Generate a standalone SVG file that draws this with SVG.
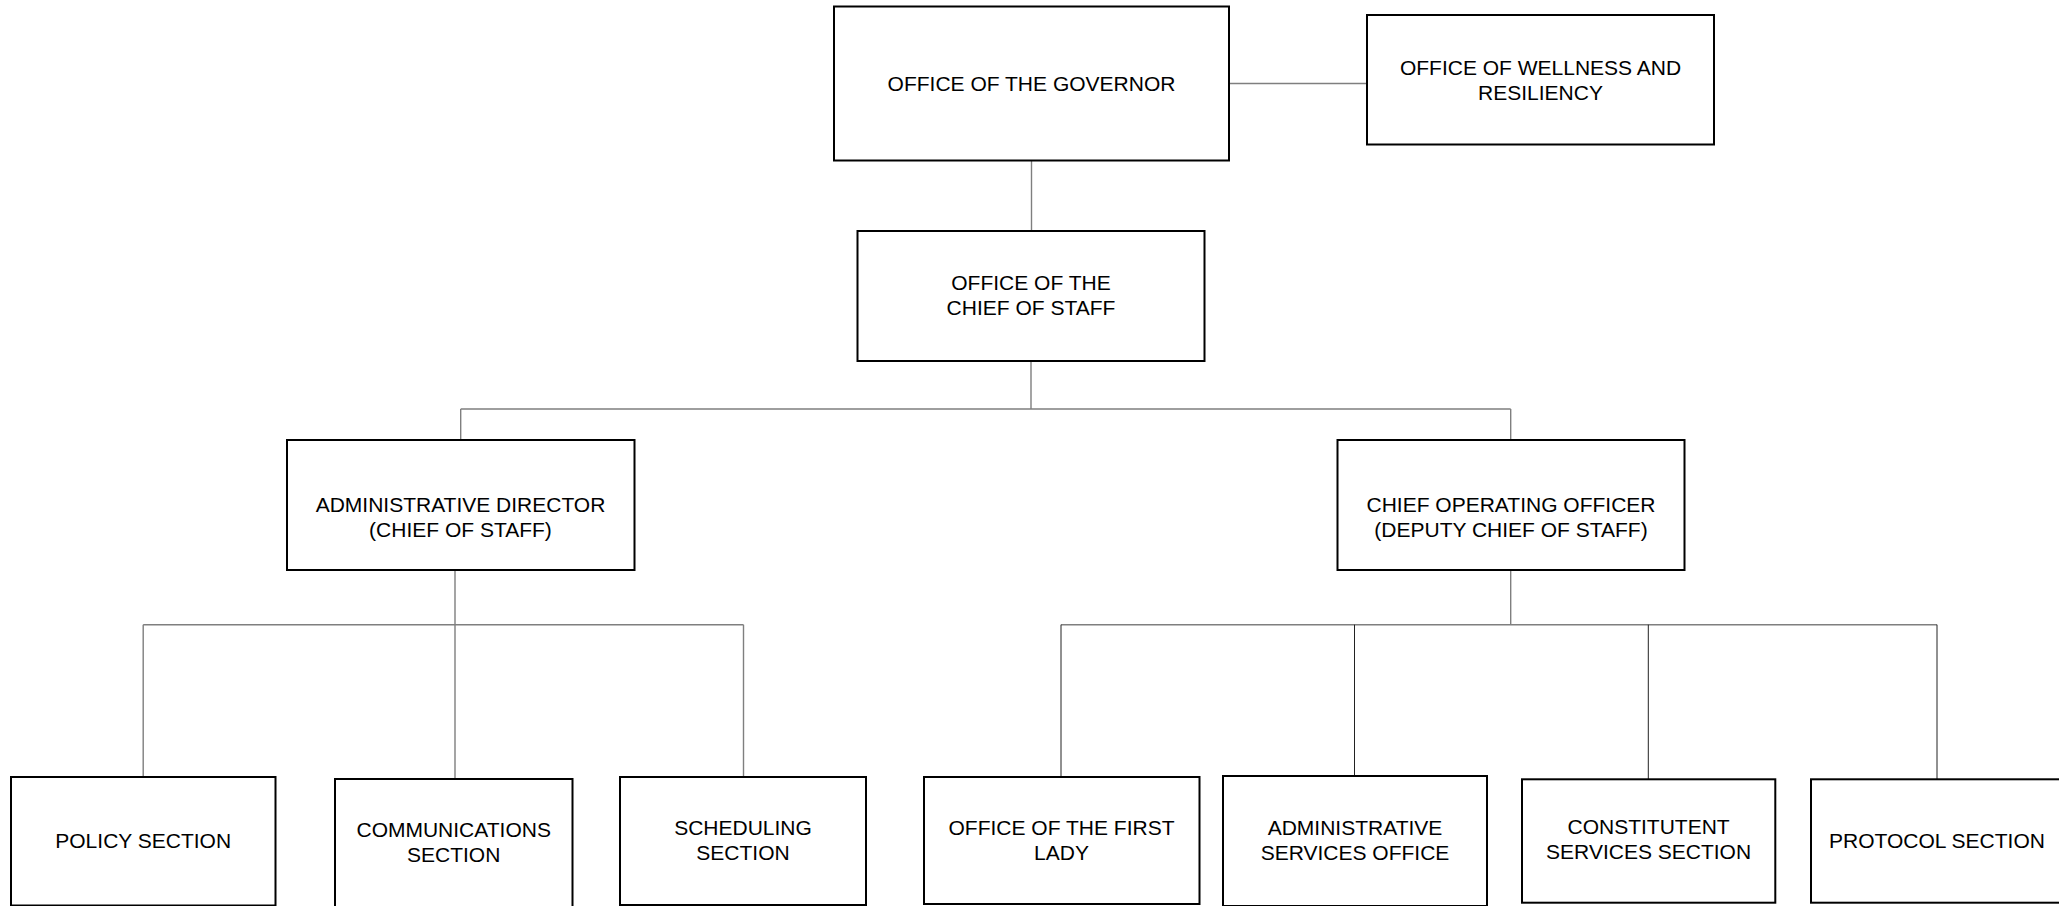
<svg xmlns="http://www.w3.org/2000/svg" width="2059" height="906" viewBox="0 0 2059 906">
<style>
.box{fill:#fff;stroke:#000;stroke-width:2}
.t{font-family:"Liberation Sans",Arial,sans-serif;font-size:21px;fill:#000;text-anchor:middle}
.c{fill:none;stroke:#7f7f7f;stroke-width:1.4}
.k{fill:none;stroke:#222;stroke-width:1}
</style>
<rect width="2059" height="906" fill="#fff"/>
<g id="connectors">
<path class="c" d="M1229 83.5H1367"/>
<path class="c" d="M1031.5 161V231"/>
<path class="c" d="M1031 361V409M460.7 409H1510.7M460.7 409V440M1510.7 409V440"/>
<path class="c" d="M455 570V624.7M143.2 624.7H743.5M143.2 624.7V777M455 624.7V779M743.5 624.7V777"/>
<path class="c" d="M1510.7 570V624.7M1061 624.7H1937"/>
<path class="k" d="M1061 624.7V777M1354.5 624.7V776M1648.3 624.7V779M1937 624.7V779"/>
</g>
<g id="governor"><rect class="box" x="834" y="6.5" width="395" height="154"/><text class="t" x="1031.5" y="90.5">OFFICE OF THE GOVERNOR</text></g>
<g id="wellness"><rect class="box" x="1367" y="15" width="347" height="129.5"/><text class="t" x="1540.5" y="75">OFFICE OF WELLNESS AND</text><text class="t" x="1540.5" y="99.5">RESILIENCY</text></g>
<g id="chief-of-staff"><rect class="box" x="857.5" y="231" width="347" height="130"/><text class="t" x="1031" y="290">OFFICE OF THE</text><text class="t" x="1031" y="314.5">CHIEF OF STAFF</text></g>
<g id="admin-director"><rect class="box" x="287" y="440" width="347.5" height="130"/><text class="t" x="460.5" y="511.7">ADMINISTRATIVE DIRECTOR</text><text class="t" x="460.5" y="536.7">(CHIEF OF STAFF)</text></g>
<g id="coo"><rect class="box" x="1337.5" y="440" width="347" height="130"/><text class="t" x="1511" y="511.7">CHIEF OPERATING OFFICER</text><text class="t" x="1511" y="536.7">(DEPUTY CHIEF OF STAFF)</text></g>
<g id="policy"><rect class="box" x="11" y="777" width="264.5" height="128.5"/><text class="t" x="143.2" y="848.3">POLICY SECTION</text></g>
<g id="communications"><rect class="box" x="335" y="779" width="237.5" height="130"/><text class="t" x="453.7" y="836.7">COMMUNICATIONS</text><text class="t" x="453.7" y="861.7">SECTION</text></g>
<g id="scheduling"><rect class="box" x="620" y="777" width="246" height="128"/><text class="t" x="743" y="835">SCHEDULING</text><text class="t" x="743" y="860">SECTION</text></g>
<g id="first-lady"><rect class="box" x="924" y="777" width="275.5" height="127"/><text class="t" x="1061.5" y="835">OFFICE OF THE FIRST</text><text class="t" x="1061.5" y="860">LADY</text></g>
<g id="admin-services"><rect class="box" x="1223" y="776" width="264" height="130"/><text class="t" x="1355" y="835">ADMINISTRATIVE</text><text class="t" x="1355" y="860">SERVICES OFFICE</text></g>
<g id="constituent"><rect class="box" x="1522" y="779.3" width="253.3" height="123.4"/><text class="t" x="1648.6" y="834">CONSTITUTENT</text><text class="t" x="1648.6" y="859.3">SERVICES SECTION</text></g>
<g id="protocol"><rect class="box" x="1811" y="779.3" width="254" height="123.4"/><text class="t" x="1937" y="848">PROTOCOL SECTION</text></g>
</svg>
